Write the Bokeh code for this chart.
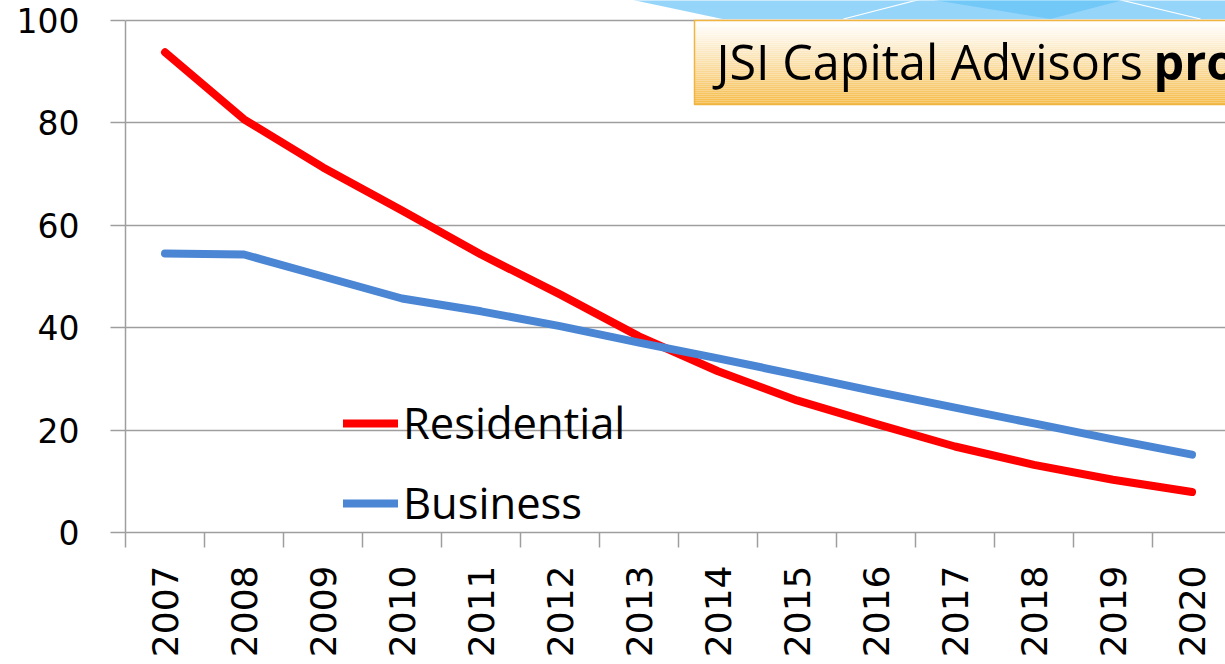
import math
from bokeh.plotting import figure
from bokeh.models import FixedTicker, Legend, LegendItem, Range1d
from bokeh.core.properties import value
from bokeh.embed import file_html
from bokeh.resources import INLINE

years = ["2007", "2008", "2009", "2010", "2011", "2012", "2013",
         "2014", "2015", "2016", "2017", "2018", "2019", "2020"]
residential = [93.8, 80.7, 71.3, 62.9, 54.3, 46.5, 38.3, 31.5, 25.8, 21.2, 16.8, 13.2, 10.3, 7.9]
business = [54.5, 54.3, 50.0, 45.7, 43.2, 40.3, 37.1, 34.0, 30.8, 27.5, 24.4, 21.3, 18.2, 15.2]
y_ticks = [0, 20, 40, 60, 80, 100]
title_text = "JSI Capital Advisors "
title_bold = "pro"

idx = list(range(len(years)))

# layout constants (pixels)
FRAME_W = 1100
FRAME_H = 532
PX_PER_CAT = 79.0
PX_PER_UNIT = 5.12
x_start = -0.5
x_end = x_start + FRAME_W / PX_PER_CAT
y_end = FRAME_H / PX_PER_UNIT


def dx(px):
    # page pixel -> data x
    return x_start + (px - 125) / PX_PER_CAT


def dy(py):
    # page pixel -> data y
    return (532 - py) / PX_PER_UNIT


p = figure(width=1225, height=664, output_backend="svg", toolbar_location=None,
           x_range=Range1d(x_start, x_end), y_range=Range1d(0, y_end),
           min_border_left=125, min_border_right=0, min_border_top=0,
           min_border_bottom=132)
p.outline_line_color = None
p.background_fill_color = "white"
p.border_fill_color = "white"

grid_col = "#9E9E9E"
p.xgrid.grid_line_color = None
p.ygrid.ticker = FixedTicker(ticks=y_ticks)
p.ygrid.grid_line_color = grid_col
p.ygrid.grid_line_width = 1.5

# y axis
p.yaxis.ticker = FixedTicker(ticks=y_ticks)
p.yaxis.bounds = (0, 100)
p.yaxis.axis_line_color = grid_col
p.yaxis.axis_line_width = 1.5
p.yaxis.major_tick_line_color = grid_col
p.yaxis.major_tick_line_width = 1.5
p.yaxis.major_tick_out = 15
p.yaxis.major_tick_in = 0
p.yaxis.minor_tick_line_color = None
p.yaxis.major_label_standoff = 31
p.yaxis.major_label_text_font = "DejaVu Sans"
p.yaxis.major_label_text_font_size = "33px"
p.yaxis.major_label_text_color = "black"

# x axis
boundaries = [i - 0.5 for i in range(len(years) + 2)]
p.xaxis.ticker = FixedTicker(ticks=idx, minor_ticks=boundaries)
p.xaxis.major_label_overrides = {i: y for i, y in zip(idx, years)}
p.xaxis.axis_line_color = grid_col
p.xaxis.axis_line_width = 1.5
p.xaxis.major_tick_line_color = None
p.xaxis.major_tick_out = 15
p.xaxis.major_tick_in = 0
p.xaxis.minor_tick_line_color = grid_col
p.xaxis.minor_tick_line_width = 1.5
p.xaxis.minor_tick_out = 15
p.xaxis.minor_tick_in = 0
p.xaxis.major_label_orientation = math.pi / 2
p.xaxis.major_label_standoff = 18
p.xaxis.major_label_text_font = "DejaVu Sans"
p.xaxis.major_label_text_font_size = "36px"
p.xaxis.major_label_text_color = "black"

# decorative blue shape at the top
p.patch([dx(630), dx(722), dx(1226), dx(1226)], [dy(-1), dy(18.5), dy(18.5), dy(-1)],
        fill_color="#95D5FA", line_color=None)
p.patch([dx(930), dx(1125), dx(1050)], [dy(-1), dy(-1), dy(18.5)],
        fill_color="#72C9F8", line_color=None)
p.segment(x0=[dx(843), dx(1118)], y0=[dy(18.5), dy(-1)], x1=[dx(919), dx(1200)],
          y1=[dy(-1), dy(18.5)], line_color="white", line_width=1.2)

# title box with vertical gradient
top_c = (255, 255, 255)
bot_c = (245, 188, 74)
n = 42
b_top, b_bot = dy(20), dy(104)
lefts, rights, tops, bots, cols = [], [], [], [], []
for i in range(n):
    t = i / (n - 1)
    t2 = t ** 1.1
    c = tuple(int(round(top_c[k] + (bot_c[k] - top_c[k]) * t2)) for k in range(3))
    lefts.append(dx(694))
    rights.append(x_end + 1)
    tops.append(b_top - (b_top - b_bot) * i / n)
    bots.append(b_top - (b_top - b_bot) * (i + 1) / n)
    cols.append("#%02x%02x%02x" % c)
p.quad(left=lefts, right=rights, top=tops, bottom=bots, fill_color=cols, line_color=None)
p.quad(left=[dx(694)], right=[x_end + 1], top=[b_top], bottom=[b_bot],
       fill_color=None, line_color="#F0B440", line_width=1.5)
p.text(x=[dx(716)], y=[dy(60)], text=[title_text], text_font=value("Open Sans"),
       text_font_size="48.5px", text_color="black", text_baseline="middle",
       text_align="left")
p.text(x=[dx(1153)], y=[dy(60)], text=[title_bold], text_font=value("Open Sans"),
       text_font_size="48.5px", text_font_style="bold", text_color="black",
       text_baseline="middle", text_align="left")

# data lines
r_res = p.line(idx, residential, line_color="#FF0000", line_width=8, line_cap="round",
               line_join="round")
r_bus = p.line(idx, business, line_color="#4A86D4", line_width=8, line_cap="round",
               line_join="round")

legend = Legend(items=[LegendItem(label="Residential", renderers=[r_res]),
                       LegendItem(label="Business", renderers=[r_bus])],
                location=(218, 0), orientation="vertical",
                background_fill_alpha=0, border_line_color=None,
                label_text_font="Open Sans", label_text_font_size="43.5px",
                label_text_color="black",
                glyph_width=55, glyph_height=40, label_height=40, spacing=21,
                padding=0, margin=0, label_standoff=5)
p.add_layout(legend)

open("out.html", "w").write(file_html(p, INLINE))
